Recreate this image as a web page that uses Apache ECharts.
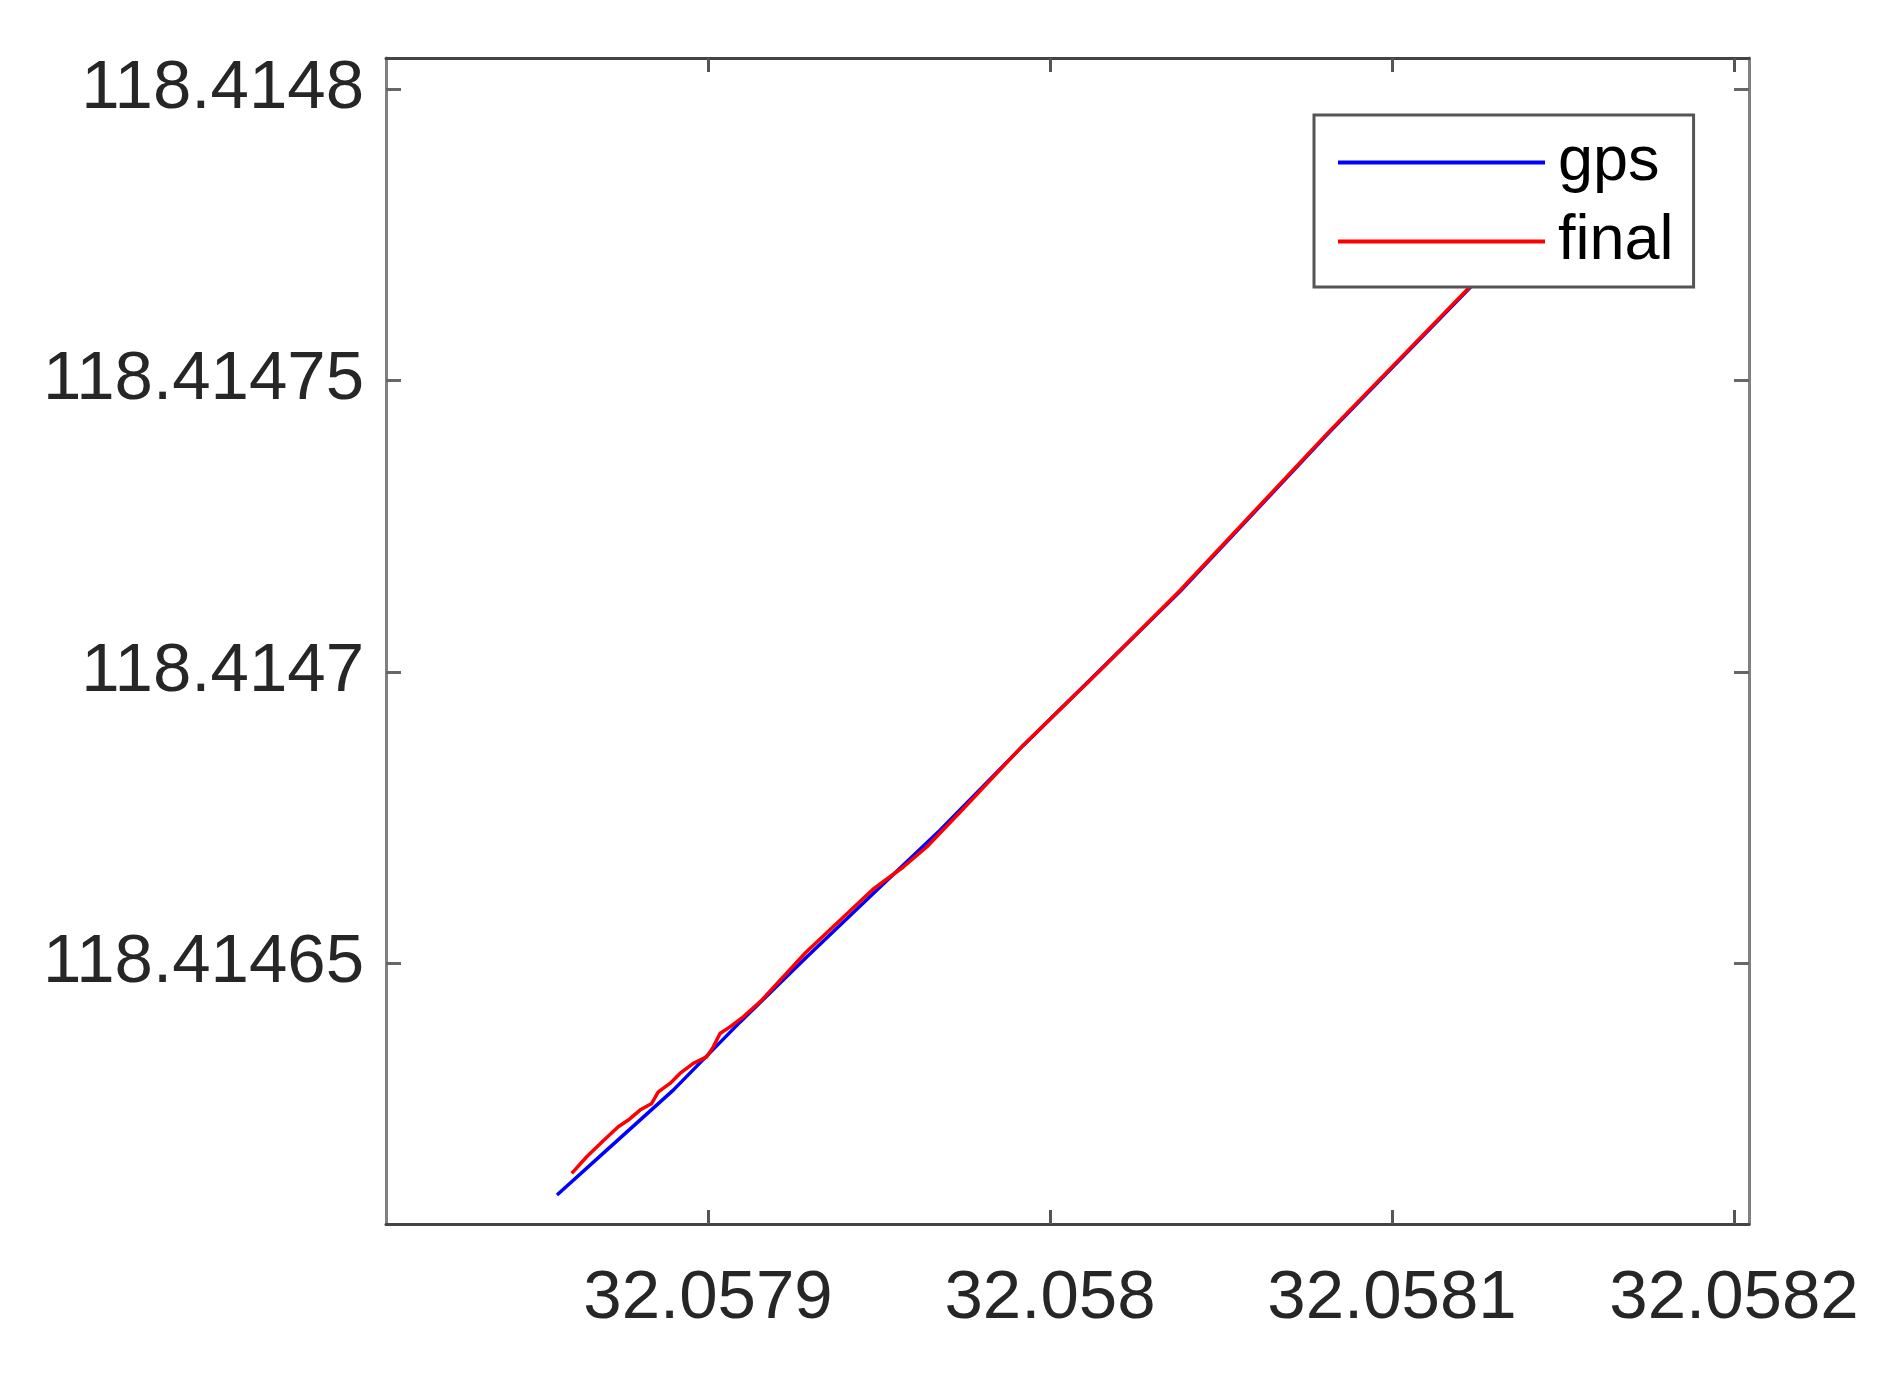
<!DOCTYPE html>
<html>
<head>
<meta charset="utf-8">
<title>gps / final</title>
<script src="https://cdn.jsdelivr.net/npm/echarts@6/dist/echarts.min.js"></script>
<style>
    html, body { margin: 0; padding: 0; background: #fff; }
    #track-chart { width: 1904px; height: 1377px; }
</style>
</head>
<body>
<div id="track-chart"></div>
<script>
// 坐标轴范围与刻度
const xMin = 32.05780585
const xMax = 32.05820439
const yMin = 118.41460526
const yMax = 118.41480530
const xTicks = [32.0579, 32.058, 32.0581, 32.0582]
const xTickLabels = ['32.0579', '32.058', '32.0581', '32.0582']
const yTicks = [118.41465, 118.4147, 118.41475, 118.4148]
const yTickLabels = ['118.41465', '118.4147', '118.41475', '118.4148']

// gps 轨迹 (经度方向 x, 纬度方向 y)
const gpsX = [32.05785585, 32.05787038, 32.05788985, 32.05790936, 32.05792886, 32.05794833,
    32.05796784, 32.05799219, 32.05803801, 32.05808187, 32.05812222, 32.05814035]
const gpsY = [118.41461023, 118.41461794, 118.41462823, 118.41463989, 118.41465108, 118.41466195,
    118.41467280, 118.41468737, 118.41471377, 118.41474120, 118.41476554, 118.41477686]

// final 轨迹
const finalX = [32.05786015, 32.05786453, 32.05786930, 32.05787377, 32.05787670, 32.05788012,
    32.05788354, 32.05788547, 32.05788889, 32.05789181, 32.05789570, 32.05789962,
    32.05790155, 32.05790351, 32.05790643, 32.05791032, 32.05791570, 32.05792865,
    32.05794825, 32.05795711, 32.05796395, 32.05797368, 32.05799211, 32.05801462,
    32.05803801, 32.05808187, 32.05812222, 32.05814035]
const finalY = [118.41461395, 118.41461679, 118.41461949, 118.41462194, 118.41462309, 118.41462480,
    118.41462595, 118.41462794, 118.41462938, 118.41463109, 118.41463281, 118.41463394,
    118.41463565, 118.41463795, 118.41463908, 118.41464079, 118.41464366, 118.41465189,
    118.41466269, 118.41466651, 118.41466994, 118.41467589, 118.41468737, 118.41470023,
    118.41471394, 118.41474137, 118.41476571, 118.41477703]

const toPairs = (xs, ys) => xs.map((x, i) => [x, ys[i]])

// 按最近的刻度取标签文字
const tickText = (ticks, labels) => (value) => {
    let best = 0
    for (let i = 1; i < ticks.length; i++) {
        if (Math.abs(ticks[i] - value) < Math.abs(ticks[best] - value)) best = i
    }
    return labels[best]
}

const labelFont = {
    fontFamily: '"Liberation Sans", Arial, sans-serif',
    fontSize: 69,
    color: '#262626'
}

const makeXAxis = (position, showLabel) => ({
    type: 'value',
    position: position,
    min: xMin,
    max: xMax,
    scale: true,
    axisLine: { show: true, onZero: false, lineStyle: { color: '#444', width: 3 } },
    axisTick: { show: true, inside: true, length: 14, customValues: xTicks, lineStyle: { color: '#555', width: 3 } },
    axisLabel: {
        show: showLabel,
        customValues: xTicks,
        margin: 40,
        formatter: tickText(xTicks, xTickLabels),
        ...labelFont
    },
    splitLine: { show: false }
})

const makeYAxis = (position, showLabel) => ({
    type: 'value',
    position: position,
    min: yMin,
    max: yMax,
    scale: true,
    axisLine: { show: true, onZero: false, lineStyle: { color: '#808080', width: 3 } },
    axisTick: { show: true, inside: true, length: 15, customValues: yTicks, lineStyle: { color: '#666', width: 3 } },
    axisLabel: {
        show: showLabel,
        customValues: yTicks,
        margin: 22,
        formatter: tickText(yTicks, yTickLabels),
        ...labelFont
    },
    splitLine: { show: false }
})

let myChart = echarts.init(document.getElementById('track-chart'))
myChart.setOption({
    animation: false,
    backgroundColor: '#fff',
    grid: {
        left: 386,
        right: 155,
        top: 58,
        bottom: 153,
        outerBoundsMode: 'none'
    },
    legend: {
        orient: 'vertical',
        left: 1314,
        top: 115,
        padding: [16, 20, 14, 22],
        itemGap: 16,
        itemWidth: 207,
        itemHeight: 14,
        backgroundColor: '#fff',
        borderColor: '#555',
        borderWidth: 3,
        borderRadius: 0,
        itemStyle: { opacity: 0 },
        lineStyle: { width: 4 },
        data: ['gps', 'final'],
        textStyle: {
            fontFamily: '"Liberation Sans", Arial, sans-serif',
            fontSize: 63,
            lineHeight: 62,
            color: '#000',
            padding: [0, 0, 0, 8]
        }
    },
    xAxis: [makeXAxis('bottom', true), makeXAxis('top', false)],
    yAxis: [makeYAxis('left', true), makeYAxis('right', false)],
    series: [
        {
            name: 'gps',
            type: 'line',
            data: toPairs(gpsX, gpsY),
            symbol: 'none',
            lineStyle: { color: '#0000ff', width: 3.5 },
            itemStyle: { color: '#0000ff' }
        },
        {
            name: 'final',
            type: 'line',
            data: toPairs(finalX, finalY),
            symbol: 'none',
            lineStyle: { color: '#ff0000', width: 3.5 },
            itemStyle: { color: '#ff0000' }
        }
    ]
})
</script>
</body>
</html>
